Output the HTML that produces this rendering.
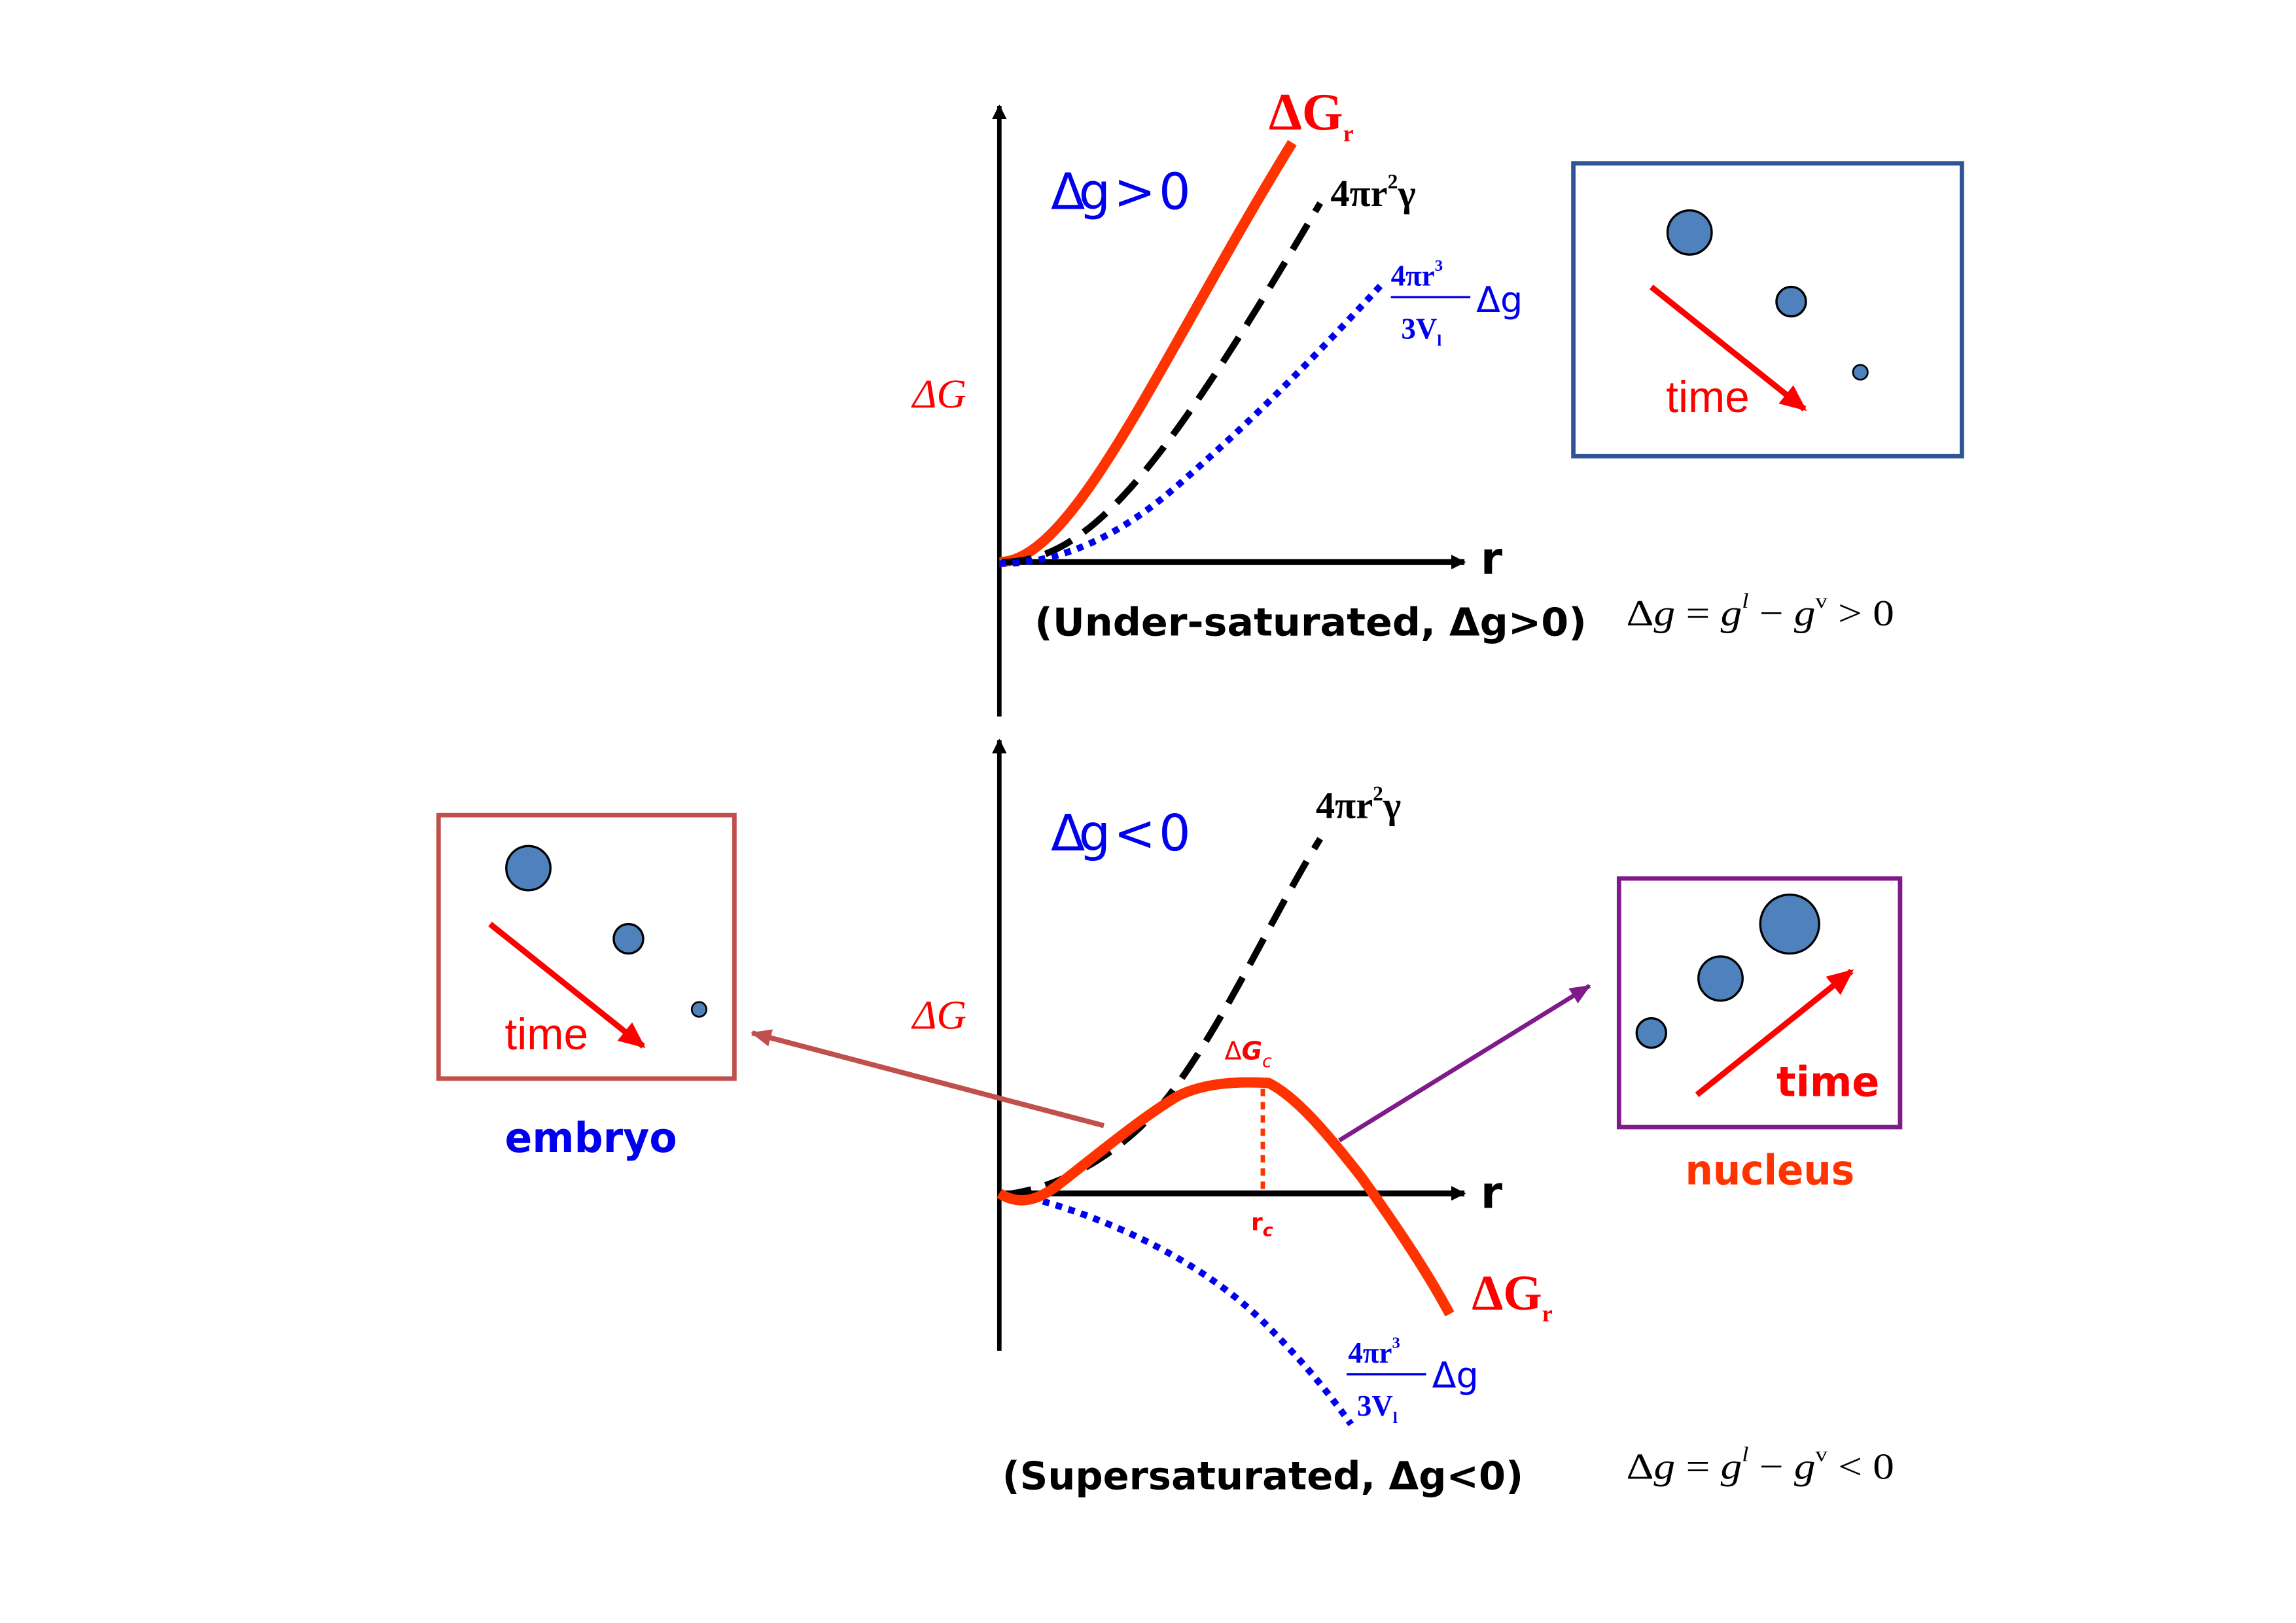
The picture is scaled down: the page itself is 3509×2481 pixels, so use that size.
<!DOCTYPE html>
<html><head><meta charset="utf-8"><style>html,body{margin:0;padding:0;background:#fff}svg{display:block}</style></head>
<body>
<svg width="3509" height="2481" viewBox="0 0 1560 1103" preserveAspectRatio="none" xmlns="http://www.w3.org/2000/svg">
<defs>
<marker id="ab" markerWidth="10" markerHeight="10" refX="9" refY="5" orient="auto" markerUnits="userSpaceOnUse"><path d="M0,0 L10,5 L0,10z" fill="#000"/></marker>
<marker id="ar" markerWidth="18" markerHeight="16" refX="16" refY="8" orient="auto" markerUnits="userSpaceOnUse"><path d="M0,0 L18,8 L0,16z" fill="#f00"/></marker>
<marker id="ae" markerWidth="14" markerHeight="12" refX="13" refY="6" orient="auto" markerUnits="userSpaceOnUse"><path d="M0,0 L14,6 L0,12z" fill="#C0504D"/></marker>
<marker id="ap" markerWidth="14" markerHeight="12" refX="13" refY="6" orient="auto" markerUnits="userSpaceOnUse"><path d="M0,0 L14,6 L0,12z" fill="#7F1A8A"/></marker>
</defs>
<g font-family="Liberation Serif, serif">
<!-- TOP PLOT -->
<line x1="679" y1="487" x2="679" y2="72" stroke="#000" stroke-width="3" marker-end="url(#ab)"/>
<line x1="679" y1="382" x2="995" y2="382" stroke="#000" stroke-width="4" marker-end="url(#ab)"/>
<path d="M679,382 C730,382 790,240 878,97" fill="none" stroke="#FF3300" stroke-width="7"/>
<path d="M681,382 C740,382 790,320 897,138" fill="none" stroke="#000" stroke-width="4.5" stroke-dasharray="20,10"/>
<path d="M679,383 C720,383 760,365 800,330 C860,278 900,235 940,192" fill="none" stroke="#0000EE" stroke-width="4.5" stroke-dasharray="4.5,4.5"/>
<text x="862" y="88" font-size="36" font-weight="bold" fill="#f00">ΔG<tspan font-size="16" dy="8">r</tspan></text>
<text x="714" y="142" font-size="34" fill="#0000EE" font-family="DejaVu Sans, sans-serif" textLength="95">Δg &gt; 0</text>
<text x="904" y="140" font-size="26" font-weight="bold">4πr<tspan font-size="14" dy="-12">2</tspan><tspan dy="12">γ</tspan></text>
<text x="945" y="194" font-size="20" font-weight="bold" fill="#0000EE">4πr<tspan font-size="11" dy="-10">3</tspan></text>
<line x1="945" y1="202" x2="999" y2="202" stroke="#0000EE" stroke-width="1.5"/>
<text x="952" y="230" font-size="20" font-weight="bold" fill="#0000EE">3V<tspan font-size="11" dy="5">l</tspan></text>
<text x="1003" y="212" font-size="24" fill="#0000EE" font-family="DejaVu Sans, sans-serif">Δg</text>
<text x="620" y="277" font-size="28" font-style="italic" fill="#f00">ΔG</text>
<text x="1006" y="390" font-size="30" font-weight="bold" font-family="DejaVu Sans, sans-serif">r</text>
<text x="703" y="432" font-size="26" font-weight="bold" font-family="DejaVu Sans, sans-serif" textLength="375" lengthAdjust="spacingAndGlyphs">(Under-saturated, Δg&gt;0)</text>
<text x="1105" y="425" font-size="25" textLength="182" lengthAdjust="spacingAndGlyphs">Δ<tspan font-style="italic">g</tspan> = <tspan font-style="italic">g</tspan><tspan font-size="14" dy="-12" font-style="italic">l</tspan><tspan dy="12"> − </tspan><tspan font-style="italic">g</tspan><tspan font-size="14" dy="-12">v</tspan><tspan dy="12"> &gt; 0</tspan></text>
<rect x="1069" y="111" width="264" height="199" fill="none" stroke="#2F5597" stroke-width="3"/>
<circle cx="1148" cy="158" r="15" fill="#4F81BD" stroke="#000" stroke-width="1.5"/>
<circle cx="1217" cy="205" r="10" fill="#4F81BD" stroke="#000" stroke-width="1.5"/>
<circle cx="1264" cy="253" r="5" fill="#4F81BD" stroke="#000" stroke-width="1.2"/>
<line x1="1122" y1="195" x2="1226" y2="278" stroke="#f00" stroke-width="4" marker-end="url(#ar)"/>
<text x="1132" y="280" font-size="30" fill="#f00" font-family="Liberation Sans, sans-serif">time</text>

<!-- BOTTOM PLOT -->
<line x1="679" y1="918" x2="679" y2="503" stroke="#000" stroke-width="3" marker-end="url(#ab)"/>
<line x1="679" y1="811" x2="995" y2="811" stroke="#000" stroke-width="4" marker-end="url(#ab)"/>
<path d="M681,812 C720,808 760,785 790,750 C830,700 860,630 897,570" fill="none" stroke="#000" stroke-width="4.5" stroke-dasharray="20,10"/>
<path d="M700,814 C760,830 820,860 860,900 C890,930 905,950 918,968" fill="none" stroke="#0000EE" stroke-width="4.5" stroke-dasharray="4.5,4.5"/>
<line x1="858" y1="740" x2="858" y2="808" stroke="#FF3300" stroke-width="3" stroke-dasharray="5,4"/>
<path d="M679,811 C690,818 702,818 718,806 C745,785 775,760 800,745 C820,735 845,735 862,736 C880,745 900,768 925,800 C950,835 970,865 985,893" fill="none" stroke="#FF3300" stroke-width="7"/>
<text x="832" y="720" font-size="17" fill="#f00" font-family="DejaVu Sans, sans-serif">Δ<tspan font-style="italic" font-weight="bold">G</tspan><tspan font-size="12" dy="5" font-style="italic">c</tspan></text>
<text x="850" y="836" font-size="16" fill="#f00" font-family="DejaVu Sans, sans-serif" font-weight="bold">r<tspan font-size="12" dy="4" font-style="italic">c</tspan></text>
<text x="1000" y="890" font-size="34" font-weight="bold" fill="#f00">ΔG<tspan font-size="16" dy="8">r</tspan></text>
<text x="714" y="578" font-size="34" fill="#0000EE" font-family="DejaVu Sans, sans-serif" textLength="95">Δg &lt; 0</text>
<text x="894" y="556" font-size="26" font-weight="bold">4πr<tspan font-size="14" dy="-12">2</tspan><tspan dy="12">γ</tspan></text>
<text x="916" y="926" font-size="20" font-weight="bold" fill="#0000EE">4πr<tspan font-size="11" dy="-10">3</tspan></text>
<line x1="915" y1="934" x2="969" y2="934" stroke="#0000EE" stroke-width="1.5"/>
<text x="922" y="962" font-size="20" font-weight="bold" fill="#0000EE">3V<tspan font-size="11" dy="5">l</tspan></text>
<text x="973" y="943" font-size="24" fill="#0000EE" font-family="DejaVu Sans, sans-serif">Δg</text>
<text x="620" y="699" font-size="28" font-style="italic" fill="#f00">ΔG</text>
<text x="1006" y="821" font-size="30" font-weight="bold" font-family="DejaVu Sans, sans-serif">r</text>
<text x="681" y="1012" font-size="26" font-weight="bold" font-family="DejaVu Sans, sans-serif" textLength="354" lengthAdjust="spacingAndGlyphs">(Supersaturated, Δg&lt;0)</text>
<text x="1105" y="1005" font-size="25" textLength="182" lengthAdjust="spacingAndGlyphs">Δ<tspan font-style="italic">g</tspan> = <tspan font-style="italic">g</tspan><tspan font-size="14" dy="-12" font-style="italic">l</tspan><tspan dy="12"> − </tspan><tspan font-style="italic">g</tspan><tspan font-size="14" dy="-12">v</tspan><tspan dy="12"> &lt; 0</tspan></text>

<!-- embryo -->
<rect x="298" y="554" width="201" height="179" fill="none" stroke="#C0504D" stroke-width="3"/>
<circle cx="359" cy="590" r="15" fill="#4F81BD" stroke="#000" stroke-width="1.5"/>
<circle cx="427" cy="638" r="10" fill="#4F81BD" stroke="#000" stroke-width="1.5"/>
<circle cx="475" cy="686" r="5" fill="#4F81BD" stroke="#000" stroke-width="1.2"/>
<line x1="333" y1="628" x2="437" y2="711" stroke="#f00" stroke-width="4" marker-end="url(#ar)"/>
<text x="343" y="713" font-size="30" fill="#f00" font-family="Liberation Sans, sans-serif">time</text>
<text x="343" y="783" font-size="28" font-weight="bold" fill="#0000EE" font-family="DejaVu Sans, sans-serif" textLength="117" lengthAdjust="spacingAndGlyphs">embryo</text>
<line x1="750" y1="765" x2="511" y2="702" stroke="#C0504D" stroke-width="3.5" marker-end="url(#ae)"/>

<!-- nucleus -->
<rect x="1100" y="597" width="191" height="169" fill="none" stroke="#7F1A8A" stroke-width="3"/>
<circle cx="1216" cy="628" r="20" fill="#4F81BD" stroke="#000" stroke-width="1.5"/>
<circle cx="1169" cy="665" r="15" fill="#4F81BD" stroke="#000" stroke-width="1.5"/>
<circle cx="1122" cy="702" r="10" fill="#4F81BD" stroke="#000" stroke-width="1.5"/>
<line x1="1153" y1="744" x2="1258" y2="660" stroke="#f00" stroke-width="4" marker-end="url(#ar)"/>
<text x="1207" y="745" font-size="28" font-weight="bold" fill="#f00" font-family="DejaVu Sans, sans-serif" textLength="70" lengthAdjust="spacingAndGlyphs">time</text>
<text x="1145" y="805" font-size="28" font-weight="bold" fill="#FF3300" font-family="DejaVu Sans, sans-serif" textLength="115" lengthAdjust="spacingAndGlyphs">nucleus</text>
<line x1="910" y1="775" x2="1080" y2="670" stroke="#7F1A8A" stroke-width="3" marker-end="url(#ap)"/>
</g>
</svg>
</body></html>
